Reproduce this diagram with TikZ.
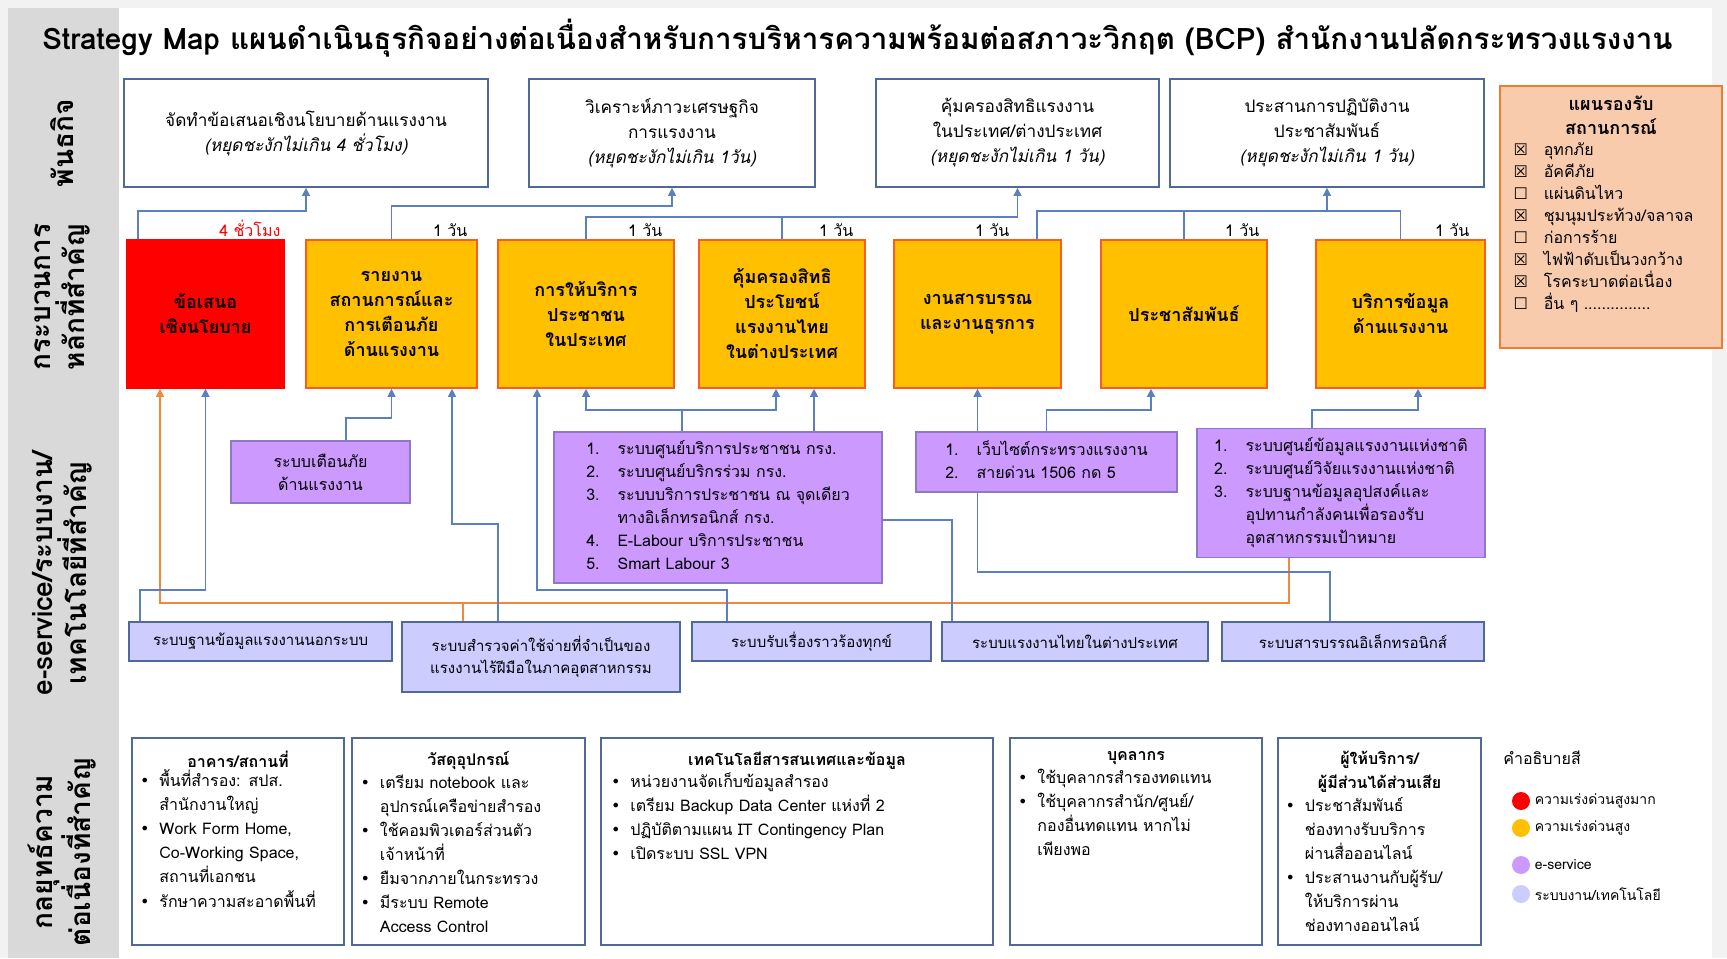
\documentclass[tikz,border=0pt]{standalone}
\usepackage{fontspec}
\setmainfont{Loma}[Script=Thai]
\newfontfamily\symfont{DejaVu Sans}
\usetikzlibrary{arrows.meta}
\definecolor{pagebg}{HTML}{F2F2F2}
\definecolor{sidebg}{HTML}{D9D9D9}
\definecolor{boxline}{HTML}{4F6A9A}
\definecolor{linkc}{HTML}{5B7FC0}
\definecolor{orangec}{HTML}{F0883E}
\definecolor{procfill}{HTML}{FFC000}
\definecolor{procline}{HTML}{FF5A1F}
\definecolor{efill}{HTML}{CC99FF}
\definecolor{eline}{HTML}{8C7AC8}
\definecolor{sysfill}{HTML}{CCCCFF}
\definecolor{planfill}{HTML}{F8CBAD}
\definecolor{planline}{HTML}{ED7D31}
\newcommand{\cbx}{{\symfont ☒}}
\newcommand{\cbo}{{\symfont ☐}}
\newcommand{\bul}{{\symfont •}}
\begin{document}
\begin{tikzpicture}[x=0.5pt,y=-0.5pt,
    side/.style={rotate=90, align=center, font=\bfseries\fontsize{14}{17}\selectfont},
    mis/.style={draw=boxline, line width=0.9pt, fill=white, align=center, font=\fontsize{8.6}{12.5}\selectfont},
    proc/.style={draw=procline, line width=0.8pt, fill=procfill, align=center, minimum height=74pt, font=\bfseries\fontsize{9}{12.5}\selectfont},
    tlab/.style={inner sep=1pt, font=\fontsize{8}{10}\selectfont},
    eserv/.style={draw=eline, line width=0.8pt, fill=efill, align=center, font=\fontsize{8}{11.5}\selectfont},
    sys/.style={draw=boxline, line width=0.8pt, fill=sysfill, align=center, font=\fontsize{7.5}{11}\selectfont},
    strat/.style={draw=boxline, line width=0.9pt, fill=white, minimum height=103.5pt},
    stext/.style={anchor=north, inner sep=3pt, align=left, font=\fontsize{8}{12}\selectfont},
    lnk/.style={draw=linkc, line width=0.6pt},
    arr/.style={lnk, -{Triangle[length=4pt,width=4pt]}},
    olnk/.style={draw=orangec, line width=0.6pt},
    oarr/.style={olnk, -{Triangle[length=4pt,width=4pt]}},
    dot/.style={circle, minimum size=9pt, inner sep=0pt},
    legtxt/.style={anchor=west, inner sep=2pt, font=\fontsize{7}{9}\selectfont}]
\useasboundingbox (0,0) rectangle (1727,958);
\fill[pagebg] (0,0) rectangle (1727,958);
\fill[white] (8,8) rectangle (1712,958);
\fill[sidebg] (8,8) rectangle (119,958);

\node[anchor=west, inner sep=0pt, font=\bfseries\fontsize{14.8}{18}\selectfont] (title) at (42,38)
  {Strategy Map แผนดำเนินธุรกิจอย่างต่อเนื่องสำหรับการบริหารความพร้อมต่อสภาวะวิกฤต (BCP) สำนักงานปลัดกระทรวงแรงงาน};

\node[side] (lab1) at (62,143) {พันธกิจ};
\node[side] (lab2) at (62,297) {กระบวนการ\\หลักที่สำคัญ};
\node[side] (lab3) at (62,573) {e-service/ระบบงาน/\\เทคโนโลยีที่สำคัญ};
\node[side] (lab4) at (62,852) {กลยุทธ์ความ\\ต่อเนื่องที่สำคัญ};

\node[mis, minimum width=182pt, minimum height=54pt] (m1) at (306,133)
  {จัดทำข้อเสนอเชิงนโยบายด้านแรงงาน\\\textit{(หยุดชะงักไม่เกิน 4 ชั่วโมง)}};
\node[mis, minimum width=143pt, minimum height=54pt] (m2) at (672,133)
  {วิเคราะห์ภาวะเศรษฐกิจ\\การแรงงาน\\\textit{(หยุดชะงักไม่เกิน 1วัน)}};
\node[mis, minimum width=141.5pt, minimum height=54pt] (m3) at (1017.5,133)
  {คุ้มครองสิทธิแรงงาน\\ในประเทศ/ต่างประเทศ\\\textit{(หยุดชะงักไม่เกิน 1 วัน)}};
\node[mis, minimum width=157pt, minimum height=54pt] (m4) at (1327,133)
  {ประสานการปฏิบัติงาน\\ประชาสัมพันธ์\\\textit{(หยุดชะงักไม่เกิน 1 วัน)}};

\node[draw=planline, line width=0.9pt, fill=planfill, minimum width=111pt, minimum height=131pt] (plan) at (1611,217) {};
\node[anchor=north, align=center, font=\bfseries\fontsize{9}{12}\selectfont] (plant) at ([yshift=-2pt]plan.north) {แผนรองรับ\\สถานการณ์};
\node[anchor=north west, align=left, inner sep=0pt, font=\fontsize{8}{11}\selectfont] (planl) at ([xshift=7pt]plant.south -| plan.west)
  {\cbx\hspace{8pt}อุทกภัย\\\cbx\hspace{8pt}อัคคีภัย\\\cbo\hspace{8pt}แผ่นดินไหว\\\cbx\hspace{8pt}ชุมนุมประท้วง/จลาจล\\
   \cbo\hspace{8pt}ก่อการร้าย\\\cbx\hspace{8pt}ไฟฟ้าดับเป็นวงกว้าง\\\cbx\hspace{8pt}โรคระบาดต่อเนื่อง\\\cbo\hspace{8pt}อื่น ๆ ...............};

\node[proc, fill=red, draw=red, minimum width=78.5pt] (p1) at (205.5,314) {ข้อเสนอ\\เชิงนโยบาย};
\node[proc, minimum width=85.5pt] (p2) at (391.5,314) {รายงาน\\สถานการณ์และ\\การเตือนภัย\\ด้านแรงงาน};
\node[proc, minimum width=88pt] (p3) at (586,314) {การให้บริการ\\ประชาชน\\ในประเทศ};
\node[proc, minimum width=83pt] (p4) at (782,314) {คุ้มครองสิทธิ\\ประโยชน์\\แรงงานไทย\\ในต่างประเทศ};
\node[proc, minimum width=83.5pt] (p5) at (977.5,314) {งานสารบรรณ\\และงานธุรการ};
\node[proc, minimum width=83pt] (p6) at (1184,314) {ประชาสัมพันธ์};
\node[proc, minimum width=84.5pt] (p7) at (1400.5,314) {บริการข้อมูล\\ด้านแรงงาน};

\node[tlab, text=red, anchor=south east] (t1) at ([xshift=-1pt]p1.north east) {4 ชั่วโมง};
\node[tlab, anchor=south east] (t2) at ([xshift=-4pt]p2.north east) {1 วัน};
\node[tlab, anchor=south east] (t3) at ([xshift=-5pt]p3.north east) {1 วัน};
\node[tlab, anchor=south east] (t4) at ([xshift=-5pt]p4.north east) {1 วัน};
\node[tlab, anchor=south east] (t5) at ([xshift=-25pt]p5.north east) {1 วัน};
\node[tlab, anchor=south east] (t6) at ([xshift=-3pt]p6.north east) {1 วัน};
\node[tlab, anchor=south east] (t7) at ([xshift=-7pt]p7.north east) {1 วัน};

\node[eserv, minimum width=89.5pt, minimum height=31pt] (e1) at (320.5,472) {ระบบเตือนภัย\\ด้านแรงงาน};
\node[eserv, minimum width=164pt, minimum height=72.5pt] (e2) at (718,507.5)
  {\begin{tabular}{@{}l@{\hspace{9pt}}l@{}}
   1. & ระบบศูนย์บริการประชาชน กรง.\\
   2. & ระบบศูนย์บริกรร่วม กรง.\\
   3. & ระบบบริการประชาชน ณ จุดเดียว\\
      & ทางอิเล็กทรอนิกส์ กรง.\\
   4. & E-Labour บริการประชาชน\\
   5. & Smart Labour 3
   \end{tabular}};
\node[eserv, minimum width=130.5pt, minimum height=30pt] (e3) at (1046.5,462)
  {\begin{tabular}{@{}l@{\hspace{9pt}}l@{}}
   1. & เว็บไซต์กระทรวงแรงงาน\\
   2. & สายด่วน 1506 กด 5
   \end{tabular}};
\node[eserv, minimum width=144pt, minimum height=61pt] (e4) at (1341,493)
  {\begin{tabular}{@{}l@{\hspace{9pt}}l@{}}
   1. & ระบบศูนย์ข้อมูลแรงงานแห่งชาติ\\
   2. & ระบบศูนย์วิจัยแรงงานแห่งชาติ\\
   3. & ระบบฐานข้อมูลอุปสงค์และ\\
      & อุปทานกำลังคนเพื่อรองรับ\\
      & อุตสาหกรรมเป้าหมาย
   \end{tabular}};

\node[sys, minimum width=131.5pt, minimum height=19.5pt] (s1) at (260.5,641.5) {ระบบฐานข้อมูลแรงงานนอกระบบ};
\node[sys, minimum width=139pt, minimum height=35pt] (s2) at (541,657) {ระบบสำรวจค่าใช้จ่ายที่จำเป็นของ\\แรงงานไร้ฝีมือในภาคอุตสาหกรรม};
\node[sys, minimum width=119.5pt, minimum height=19.5pt] (s3) at (811.5,641.5) {ระบบรับเรื่องราวร้องทุกข์};
\node[sys, minimum width=133pt, minimum height=19.5pt] (s4) at (1075,641.5) {ระบบแรงงานไทยในต่างประเทศ};
\node[sys, minimum width=131pt, minimum height=19.5pt] (s5) at (1353,641.5) {ระบบสารบรรณอิเล็กทรอนิกส์};

\coordinate (h1) at (138,211);
\coordinate (h2) at (392,206);
\coordinate (h3) at (586,217);
\coordinate (h4) at (1037,211);
\draw[arr] (p1.north -| h1) |- (m1.south |- h1) -- (m1.south);
\draw[arr] (p2.north) |- (m2.south |- h2) -- (m2.south);
\draw[arr] (p3.north) |- (m3.south |- h3) -- (m3.south);
\draw[lnk] (p4.north) -- (p4.north |- h3);
\draw[lnk] (p5.north -| h4) |- (p7.north |- h4) -- (p7.north);
\draw[lnk] (p6.north) -- (p6.north |- h4);
\draw[arr] (m4.south |- h4) -- (m4.south);

\coordinate (q1) at (140,590);
\coordinate (o1) at (160,603);
\coordinate (o2) at (1289,603);
\coordinate (o3) at (463,603);
\coordinate (q2) at (346,418);
\coordinate (q3) at (498,524);
\coordinate (q3b) at (452,524);
\coordinate (q4) at (727,590);
\coordinate (q4b) at (537,590);
\coordinate (q5) at (682,410);
\coordinate (q6) at (952,520);
\coordinate (q7) at (1330,572);
\coordinate (q8) at (1151,410);
\coordinate (q9) at (1418,410);
\draw[oarr] (e4.south -| o2) -- (o2) -- (o1) -- (p1.south -| o1);
\draw[olnk] (o3) -- (s2.north -| o3);
\draw[arr] (s1.north -| q1) |- (p1.south |- q1) -- (p1.south);
\draw[arr] (e1.north -| q2) |- (p2.south |- q2) -- (p2.south);
\draw[arr] (s2.north -| q3) -- (q3) -- (q3b) -- (p2.south -| q3b);
\draw[arr] (s3.north -| q4) -- (q4) -- (q4b) -- (p3.south -| q4b);
\draw[lnk] (e2.north -| q5) -- (q5);
\draw[arr] (q5) -| (p3.south);
\draw[arr] (q5) -| ([xshift=-3pt]p4.south);
\draw[arr] ([xshift=48pt]e2.north) -- ([xshift=48pt]e2.north |- p4.south);
\draw[lnk] (s4.north -| q6) -- (q6) -- (e2.east |- q6);
\draw[arr] (e3.north -| p5.south) -- (p5.south);
\draw[lnk] (s5.north -| q7) -- (q7) -| (e3.south -| p5.south);
\draw[arr] (e3.north) |- (q8) -- (p6.south -| q8);
\draw[arr] ([xshift=-14.5pt]e4.north) |- (q9) -- (p7.south -| q9);

\node[strat, minimum width=106pt] (b1) at (238,841.5) {};
\node[stext, text width=98pt] (b1t) at ([yshift=-4pt]b1.north)
  {{\centering\bfseries อาคาร/สถานที่\par}
   \begin{tabular}{@{}l@{\hspace{5pt}}l@{}}
   \bul & พื้นที่สำรอง: สปส.\\ & สำนักงานใหญ่\\
   \bul & Work Form Home,\\ & Co-Working Space,\\ & สถานที่เอกชน\\
   \bul & รักษาความสะอาดพื้นที่
   \end{tabular}};
\node[strat, minimum width=116.5pt] (b2) at (468.5,841.5) {};
\node[stext, text width=108pt] (b2t) at ([yshift=-4pt]b2.north)
  {{\centering\bfseries วัสดุอุปกรณ์\par}
   \begin{tabular}{@{}l@{\hspace{5pt}}l@{}}
   \bul & เตรียม notebook และ\\ & อุปกรณ์เครือข่ายสำรอง\\
   \bul & ใช้คอมพิวเตอร์ส่วนตัว\\ & เจ้าหน้าที่\\
   \bul & ยืมจากภายในกระทรวง\\
   \bul & มีระบบ Remote\\ & Access Control
   \end{tabular}};
\node[strat, minimum width=196pt] (b3) at (797,841.5) {};
\node[stext, text width=186pt] (b3t) at ([yshift=-4pt]b3.north)
  {{\centering\bfseries เทคโนโลยีสารสนเทศและข้อมูล\par}
   \begin{tabular}{@{}l@{\hspace{5pt}}l@{}}
   \bul & หน่วยงานจัดเก็บข้อมูลสำรอง\\
   \bul & เตรียม Backup Data Center แห่งที่ 2\\
   \bul & ปฏิบัติตามแผน IT Contingency Plan\\
   \bul & เปิดระบบ SSL VPN
   \end{tabular}};
\node[strat, minimum width=126pt] (b4) at (1136,841.5) {};
\node[stext, text width=118pt] (b4t) at ([yshift=-4pt]b4.north)
  {{\centering\bfseries บุคลากร\par}
   \begin{tabular}{@{}l@{\hspace{5pt}}l@{}}
   \bul & ใช้บุคลากรสำรองทดแทน\\
   \bul & ใช้บุคลากรสำนัก/ศูนย์/\\ & กองอื่นทดแทน หากไม่\\ & เพียงพอ
   \end{tabular}};
\node[strat, minimum width=101.5pt] (b5) at (1379.5,841.5) {};
\node[stext, text width=94pt] (b5t) at ([yshift=-4pt]b5.north)
  {{\centering\bfseries ผู้ให้บริการ/\\ผู้มีส่วนได้ส่วนเสีย\par}
   \begin{tabular}{@{}l@{\hspace{5pt}}l@{}}
   \bul & ประชาสัมพันธ์\\ & ช่องทางรับบริการ\\ & ผ่านสื่อออนไลน์\\
   \bul & ประสานงานกับผู้รับ/\\ & ให้บริการผ่าน\\ & ช่องทางออนไลน์
   \end{tabular}};

\node[anchor=west, inner sep=0pt, font=\fontsize{8}{10}\selectfont] (legt) at (1503,758) {คำอธิบายสี};
\node[dot, fill=red] (d1) at (1521,801) {};
\node[legtxt] (l1) at (d1.east) {ความเร่งด่วนสูงมาก};
\node[dot, fill=procfill] (d2) at (1521,828) {};
\node[legtxt] (l2) at (d2.east) {ความเร่งด่วนสูง};
\node[dot, fill=efill] (d3) at (1521,865) {};
\node[legtxt] (l3) at (d3.east) {e-service};
\node[dot, fill=sysfill] (d4) at (1521,894) {};
\node[legtxt] (l4) at (d4.east) {ระบบงาน/เทคโนโลยี};
\end{tikzpicture}
\end{document}
